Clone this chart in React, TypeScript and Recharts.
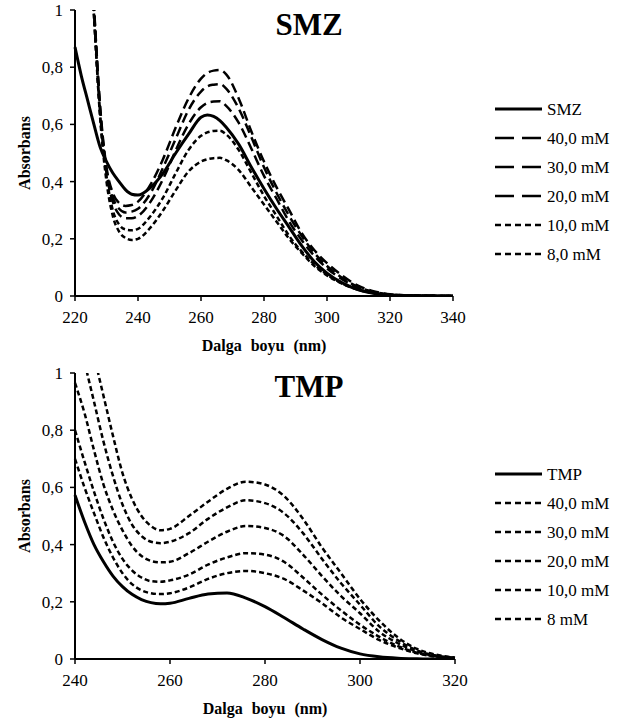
import React from 'react';
import { LineChart, Line, XAxis, YAxis, Label } from 'recharts';

const FONT = "'Liberation Serif', 'Times New Roman', Times, serif";

// SMZ spectra (top chart)
const smzWavelengths = [220, 222, 224, 226, 228, 230, 232, 234, 236, 238, 240, 244, 248, 252, 256, 260, 262, 264, 266, 268, 272, 276, 280, 284, 288, 292, 296, 300, 305, 310, 315, 320, 330, 340];
const smzPure = [0.87, 0.77, 0.685, 0.6, 0.52, 0.47, 0.43, 0.4, 0.372, 0.356, 0.353, 0.38, 0.43, 0.5, 0.565, 0.625, 0.633, 0.628, 0.613, 0.59, 0.53, 0.45, 0.375, 0.305, 0.24, 0.175, 0.12, 0.08, 0.045, 0.022, 0.009, 0.003, 0.001, 0];
const smz40 = [null, null, 1.45, 1.02, 0.66, 0.45, 0.36, 0.325, 0.315, 0.318, 0.33, 0.39, 0.48, 0.59, 0.69, 0.76, 0.78, 0.788, 0.79, 0.775, 0.69, 0.575, 0.47, 0.38, 0.3, 0.22, 0.16, 0.115, 0.07, 0.035, 0.016, 0.006, 0.001, 0];
const smz30 = [null, null, 1.4, 1.01, 0.65, 0.44, 0.345, 0.305, 0.292, 0.295, 0.305, 0.36, 0.45, 0.55, 0.65, 0.715, 0.733, 0.739, 0.741, 0.725, 0.655, 0.555, 0.45, 0.36, 0.28, 0.21, 0.15, 0.105, 0.062, 0.031, 0.014, 0.005, 0.001, 0];
const smz20 = [null, null, 1.4, 1.0, 0.64, 0.43, 0.33, 0.285, 0.272, 0.272, 0.28, 0.33, 0.41, 0.51, 0.6, 0.66, 0.675, 0.68, 0.681, 0.665, 0.605, 0.515, 0.42, 0.34, 0.26, 0.195, 0.14, 0.097, 0.057, 0.028, 0.012, 0.004, 0.001, 0];
const smz10 = [null, null, 1.35, 0.99, 0.63, 0.42, 0.3, 0.25, 0.233, 0.23, 0.235, 0.28, 0.345, 0.43, 0.51, 0.56, 0.572, 0.577, 0.578, 0.565, 0.51, 0.43, 0.35, 0.28, 0.21, 0.155, 0.11, 0.075, 0.043, 0.022, 0.01, 0.003, 0.001, 0];
const smz8 = [null, null, 1.35, 0.98, 0.62, 0.4, 0.28, 0.225, 0.203, 0.196, 0.2, 0.24, 0.3, 0.37, 0.435, 0.47, 0.478, 0.482, 0.483, 0.475, 0.44, 0.38, 0.32, 0.26, 0.2, 0.15, 0.105, 0.072, 0.042, 0.021, 0.01, 0.003, 0.001, 0];

// TMP spectra (bottom chart)
const tmpWavelengths = [240, 242, 244, 246, 248, 250, 252, 254, 256, 258, 260, 264, 268, 272, 276, 280, 284, 288, 292, 296, 300, 304, 308, 312, 316, 320];
const tmpPure = [0.573, 0.48, 0.4, 0.34, 0.29, 0.253, 0.226, 0.208, 0.197, 0.193, 0.195, 0.212, 0.227, 0.231, 0.213, 0.183, 0.145, 0.105, 0.068, 0.038, 0.018, 0.008, 0.003, 0.001, 0, 0];
const tmp40 = [1.45, 1.2, 1.06, 0.92, 0.78, 0.65, 0.56, 0.5, 0.465, 0.45, 0.455, 0.5, 0.55, 0.595, 0.62, 0.61, 0.57, 0.49, 0.39, 0.3, 0.21, 0.135, 0.075, 0.035, 0.015, 0.005];
const tmp30 = [1.2, 1.04, 0.9, 0.76, 0.64, 0.54, 0.47, 0.43, 0.41, 0.405, 0.41, 0.44, 0.49, 0.53, 0.555, 0.545, 0.51, 0.44, 0.35, 0.265, 0.19, 0.115, 0.065, 0.03, 0.012, 0.004];
const tmp20 = [0.965, 0.86, 0.73, 0.61, 0.52, 0.45, 0.395, 0.36, 0.343, 0.338, 0.34, 0.37, 0.41, 0.445, 0.465, 0.458, 0.43, 0.365, 0.29, 0.22, 0.16, 0.096, 0.055, 0.026, 0.01, 0.004];
const tmp10 = [0.8, 0.69, 0.585, 0.49, 0.41, 0.35, 0.31, 0.285, 0.272, 0.27, 0.275, 0.295, 0.33, 0.355, 0.37, 0.365, 0.34, 0.285, 0.225, 0.17, 0.12, 0.078, 0.045, 0.022, 0.009, 0.003];
const tmp8 = [0.7, 0.6, 0.51, 0.425, 0.355, 0.3, 0.262, 0.24, 0.23, 0.227, 0.23, 0.25, 0.28, 0.3, 0.308, 0.3, 0.28, 0.24, 0.195, 0.145, 0.105, 0.067, 0.04, 0.02, 0.008, 0.003];

const absTicks = [0, 0.2, 0.4, 0.6, 0.8, 1];
const smzTicks = [220, 240, 260, 280, 300, 320, 340];
const tmpTicks = [240, 260, 280, 300, 320];

const SOLID = { width: 3, dash: undefined, legendDash: undefined };
const LONG = { width: 2.5, dash: '10 5', legendDash: '19 8' };
const SHORT = { width: 2.5, dash: '5 3', legendDash: '6 4' };

const smzSeries = [
  { key: 'pure', name: 'SMZ', values: smzPure, ...SOLID },
  { key: 'c40', name: '40,0 mM', values: smz40, ...LONG },
  { key: 'c30', name: '30,0 mM', values: smz30, ...LONG },
  { key: 'c20', name: '20,0 mM', values: smz20, ...LONG },
  { key: 'c10', name: '10,0 mM', values: smz10, ...SHORT },
  { key: 'c8', name: '8,0 mM', values: smz8, ...SHORT },
];

const tmpSeries = [
  { key: 'pure', name: 'TMP', values: tmpPure, ...SOLID },
  { key: 'c40', name: '40,0 mM', values: tmp40, ...SHORT },
  { key: 'c30', name: '30,0 mM', values: tmp30, ...SHORT },
  { key: 'c20', name: '20,0 mM', values: tmp20, ...SHORT },
  { key: 'c10', name: '10,0 mM', values: tmp10, ...SHORT },
  { key: 'c8', name: '8 mM', values: tmp8, ...SHORT },
];

const fmtAbs = (v: number) => (v === 0 || v === 1 ? String(v) : v.toFixed(1).replace('.', ','));

const XTitle = ({ viewBox }: any) => {
  const vb = viewBox || { x: 75, y: 296, width: 378 };
  return (
    <text x={vb.x + vb.width / 2} y={vb.y + 55} textAnchor="middle" style={{ fontFamily: FONT, fontSize: 16, fontWeight: 'bold', wordSpacing: 5 }}>
      Dalga boyu (nm)
    </text>
  );
};

const YTitle = ({ viewBox }: any) => {
  const vb = viewBox || { y: 10, height: 286 };
  const x = 24;
  const y = vb.y + vb.height / 2;
  return (
    <text x={x} y={y} transform={`rotate(-90 ${x} ${y})`} textAnchor="middle" dominantBaseline="central" style={{ fontFamily: FONT, fontSize: 16, fontWeight: 'bold' }}>
      Absorbans
    </text>
  );
};

const LegendBox = ({ items, top }: any) => (
  <svg style={{ position: 'absolute', left: 490, top, fontFamily: FONT }} width={135} height={175}>
    {items.map((s: any, i: number) => {
      const y = 14 + i * 29;
      return (
        <g key={s.key}>
          <line x1={5} x2={52} y1={y} y2={y} stroke="#000" strokeWidth={s.width} strokeDasharray={s.legendDash} />
          <text x={57} y={y} dominantBaseline="central" fill="#000" style={{ fontFamily: FONT, fontSize: 17 }}>{s.name}</text>
        </g>
      );
    })}
  </svg>
);

const tickStyle = { fill: '#000', fontSize: 17, fontFamily: FONT };

const Spectrum = ({ wavelengths, series, ticks, top, right, title, titleTop, legendTop }: any) => {
  const rows = wavelengths.map((nm: number, i: number) => {
    const row: any = { nm };
    series.forEach((s: any) => { row[s.key] = s.values[i]; });
    return row;
  });
  return (
    <>
      <div style={{ position: 'absolute', left: 0, top, fontFamily: FONT }}>
        <LineChart width={625} height={356} data={rows} margin={{ top: 10, right, bottom: 0, left: 0 }} style={{ fontFamily: FONT }}>
          <XAxis
            dataKey="nm"
            type="number"
            domain={[ticks[0], ticks[ticks.length - 1]]}
            ticks={ticks}
            interval={0}
            height={60}
            tickSize={5}
            tickMargin={10}
            axisLine={{ stroke: '#000', strokeWidth: 2 }}
            tickLine={{ stroke: '#000', strokeWidth: 1.5 }}
            tick={tickStyle}
          >
            <Label content={<XTitle />} />
          </XAxis>
          <YAxis
            type="number"
            domain={[0, 1]}
            allowDataOverflow
            ticks={absTicks}
            interval={0}
            width={75}
            tickSize={5}
            tickMargin={7}
            tickFormatter={fmtAbs}
            axisLine={{ stroke: '#000', strokeWidth: 2 }}
            tickLine={{ stroke: '#000', strokeWidth: 1.5 }}
            tick={tickStyle}
          >
            <Label content={<YTitle />} />
          </YAxis>
          {series.map((s: any) => (
            <Line
              key={s.key}
              dataKey={s.key}
              name={s.name}
              type="monotone"
              stroke="#000"
              strokeWidth={s.width}
              strokeDasharray={s.dash}
              dot={false}
              activeDot={false}
              isAnimationActive={false}
            />
          ))}
        </LineChart>
      </div>
      <div style={{ position: 'absolute', left: 0, width: 618, top: titleTop, textAlign: 'center', fontFamily: FONT, fontSize: 31, lineHeight: '31px', fontWeight: 'bold' }}>
        {title}
      </div>
      <LegendBox items={series} top={legendTop} />
    </>
  );
};

export default function App() {
  return (
    <div style={{ position: 'absolute', left: 0, top: 0, width: 625, height: 719, background: '#fff', fontFamily: FONT }}>
      <Spectrum wavelengths={smzWavelengths} series={smzSeries} ticks={smzTicks} top={0} right={172} title="SMZ" titleTop={9} legendTop={95} />
      <Spectrum wavelengths={tmpWavelengths} series={tmpSeries} ticks={tmpTicks} top={363} right={170} title="TMP" titleTop={371} legendTop={460} />
    </div>
  );
}
